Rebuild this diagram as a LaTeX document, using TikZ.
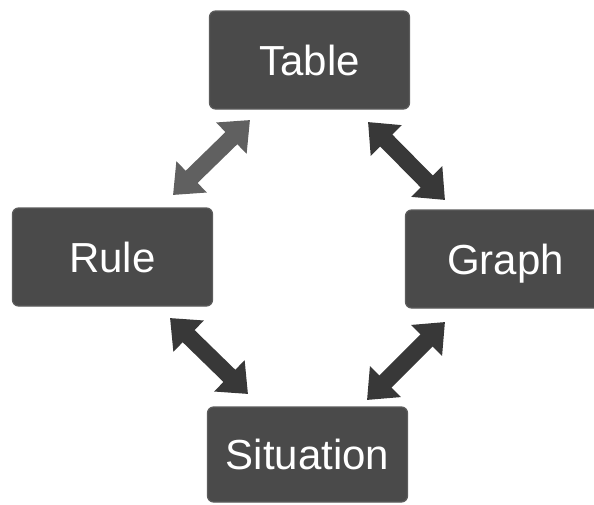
\documentclass[tikz,border=0pt]{standalone}
\usepackage{fontspec}
\setmainfont{Liberation Sans}
\usetikzlibrary{arrows.meta}
\definecolor{boxfill}{HTML}{4A4A4A}
\definecolor{boxedge}{HTML}{5C5C5C}
\definecolor{darkarrow}{HTML}{383838}
\definecolor{lightarrow}{HTML}{606060}
\begin{document}
\begin{tikzpicture}[x=1pt,y=-1pt,
  card/.style={draw=boxedge, line width=1.2pt, fill=boxfill, rounded corners=6pt,
    minimum width=200pt, minimum height=98pt, inner sep=0pt,
    text=white, font=\fontsize{42}{46}\selectfont},
  link/.style={line width=17pt, {Triangle[width=42pt,length=26pt]}-{Triangle[width=42pt,length=26pt]}}
]
\useasboundingbox (0,0) rectangle (594,504);
\node[card] (table) at (309.5,60) {Table};
\node[card] (rule) at (112.5,257) {Rule};
\node[card] (graph) at (505.5,259) {};
\node[text=white, font=\fontsize{42}{46}\selectfont] (graphtext) at ([yshift=-5pt]graph.center) {Graph};
\node[card, minimum height=95pt] (situation) at (307.5,454.5) {Situation};
\coordinate (a1) at (250,120);
\coordinate (a2) at (173,195);
\coordinate (b1) at (368,122);
\coordinate (b2) at (445,200);
\coordinate (c1) at (170,318);
\coordinate (c2) at (248,394);
\coordinate (d1) at (445,322);
\coordinate (d2) at (367,400);
\draw[link, draw=lightarrow, fill=lightarrow] (a1) -- (a2);
\draw[link, draw=darkarrow, fill=darkarrow] (b1) -- (b2);
\draw[link, draw=darkarrow, fill=darkarrow] (c1) -- (c2);
\draw[link, draw=darkarrow, fill=darkarrow] (d1) -- (d2);
\end{tikzpicture}
\end{document}
